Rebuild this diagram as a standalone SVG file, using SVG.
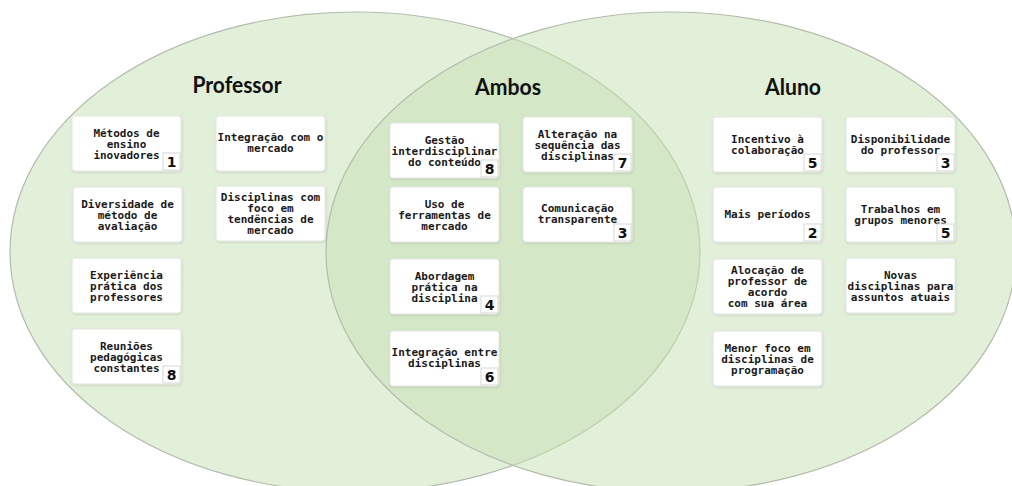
<svg xmlns="http://www.w3.org/2000/svg" width="1012" height="486" viewBox="0 0 1012 486">
<style>
.circle{fill:#c5e0b4;fill-opacity:0.5;stroke:#b4bcae;stroke-width:1.2}
.title{font-family:Lato,"Open Sans",sans-serif;font-weight:700;font-size:22px;fill:#111;text-anchor:middle}
.card{fill:#fff;stroke:#e4e6e2;stroke-width:1}
.t{font-family:"DejaVu Sans Mono","Liberation Mono",monospace;font-weight:700;font-size:11px;fill:#1a1a1a;text-anchor:middle}
.badge{fill:#fff;stroke:#d8d8d8;stroke-width:1}
.n{font-family:"DejaVu Sans","Liberation Sans",sans-serif;font-weight:700;font-size:14px;fill:#111;text-anchor:middle}
</style>
<defs>
<filter id="sh" x="-10%" y="-10%" width="120%" height="130%">
<feDropShadow dx="0.5" dy="1" stdDeviation="0.8" flood-color="#000" flood-opacity="0.12"/>
</filter>
</defs>
<rect width="1012" height="486" fill="#fff"/>
<g id="sets">
<ellipse id="set-professor" class="circle" cx="355" cy="252" rx="345" ry="240"/>
<ellipse id="set-aluno" class="circle" cx="671" cy="252" rx="345" ry="240"/>
</g>
<g id="titles">
<text class="title" x="237" y="93" textLength="89" lengthAdjust="spacingAndGlyphs">Professor</text>
<text class="title" x="508" y="95" textLength="66" lengthAdjust="spacingAndGlyphs">Ambos</text>
<text class="title" x="793" y="95" textLength="56" lengthAdjust="spacingAndGlyphs">Aluno</text>
</g>
<g id="connectors"></g>

<!-- Professor -->
<g id="p1"><rect class="card" filter="url(#sh)" x="72" y="116" width="109" height="55" rx="3"/>
<text class="t" x="126.5" y="136.5">Métodos de</text><text class="t" x="126.5" y="147.5">ensino</text><text class="t" x="126.5" y="158.5">inovadores</text>
<rect class="badge" x="163" y="153" width="17" height="17"/><text class="n" x="171.5" y="167">1</text></g>

<g id="p2"><rect class="card" filter="url(#sh)" x="216" y="116" width="109" height="55" rx="3"/>
<text class="t" x="270.5" y="141">Integração com o</text><text class="t" x="270.5" y="152">mercado</text></g>

<g id="p3"><rect class="card" filter="url(#sh)" x="73" y="187" width="109" height="55" rx="3"/>
<text class="t" x="127.5" y="207.5">Diversidade de</text><text class="t" x="127.5" y="218.5">método de</text><text class="t" x="127.5" y="229.5">avaliação</text></g>

<g id="p4"><rect class="card" filter="url(#sh)" x="216" y="186" width="109" height="55" rx="3"/>
<text class="t" x="270.5" y="201">Disciplinas com</text><text class="t" x="270.5" y="212">foco em</text><text class="t" x="270.5" y="223">tendências de</text><text class="t" x="270.5" y="234">mercado</text></g>

<g id="p5"><rect class="card" filter="url(#sh)" x="72" y="258" width="109" height="55" rx="3"/>
<text class="t" x="126.5" y="278.5">Experiência</text><text class="t" x="126.5" y="289.5">prática dos</text><text class="t" x="126.5" y="300.5">professores</text></g>

<g id="p6"><rect class="card" filter="url(#sh)" x="72" y="329" width="109" height="55" rx="3"/>
<text class="t" x="126.5" y="349.5">Reuniões</text><text class="t" x="126.5" y="360.5">pedagógicas</text><text class="t" x="126.5" y="371.5">constantes</text>
<rect class="badge" x="163" y="366" width="17" height="17"/><text class="n" x="171.5" y="380">8</text></g>

<!-- Ambos -->
<g id="a1"><rect class="card" filter="url(#sh)" x="390" y="123" width="109" height="55" rx="3"/>
<text class="t" x="444.5" y="143.5">Gestão</text><text class="t" x="444.5" y="154.5">interdisciplinar</text><text class="t" x="444.5" y="165.5">do conteúdo</text>
<rect class="badge" x="481" y="160" width="17" height="17"/><text class="n" x="489.5" y="174">8</text></g>

<g id="a2"><rect class="card" filter="url(#sh)" x="523" y="117" width="109" height="55" rx="3"/>
<text class="t" x="577.5" y="137.5">Alteração na</text><text class="t" x="577.5" y="148.5">sequência das</text><text class="t" x="577.5" y="159.5">disciplinas</text>
<rect class="badge" x="614" y="154" width="17" height="17"/><text class="n" x="622.5" y="168">7</text></g>

<g id="a3"><rect class="card" filter="url(#sh)" x="390" y="187" width="109" height="55" rx="3"/>
<text class="t" x="444.5" y="207.5">Uso de</text><text class="t" x="444.5" y="218.5">ferramentas de</text><text class="t" x="444.5" y="229.5">mercado</text></g>

<g id="a4"><rect class="card" filter="url(#sh)" x="523" y="187" width="109" height="55" rx="3"/>
<text class="t" x="577.5" y="212">Comunicação</text><text class="t" x="577.5" y="223">transparente</text>
<rect class="badge" x="614" y="224" width="17" height="17"/><text class="n" x="622.5" y="238">3</text></g>

<g id="a5"><rect class="card" filter="url(#sh)" x="390" y="259" width="109" height="55" rx="3"/>
<text class="t" x="444.5" y="279.5">Abordagem</text><text class="t" x="444.5" y="290.5">prática na</text><text class="t" x="444.5" y="301.5">disciplina</text>
<rect class="badge" x="481" y="296" width="17" height="17"/><text class="n" x="489.5" y="310">4</text></g>

<g id="a6"><rect class="card" filter="url(#sh)" x="390" y="331" width="109" height="55" rx="3"/>
<text class="t" x="444.5" y="356">Integração entre</text><text class="t" x="444.5" y="367">disciplinas</text>
<rect class="badge" x="481" y="368" width="17" height="17"/><text class="n" x="489.5" y="382">6</text></g>

<!-- Aluno -->
<g id="r1"><rect class="card" filter="url(#sh)" x="713" y="117" width="109" height="55" rx="3"/>
<text class="t" x="767.5" y="143">Incentivo à</text><text class="t" x="767.5" y="154">colaboração</text>
<rect class="badge" x="804" y="154" width="17" height="17"/><text class="n" x="812.5" y="168">5</text></g>

<g id="r2"><rect class="card" filter="url(#sh)" x="846" y="117" width="109" height="55" rx="3"/>
<text class="t" x="900.5" y="143">Disponibilidade</text><text class="t" x="900.5" y="154">do professor</text>
<rect class="badge" x="937" y="154" width="17" height="17"/><text class="n" x="945.5" y="168">3</text></g>

<g id="r3"><rect class="card" filter="url(#sh)" x="713" y="187" width="109" height="55" rx="3"/>
<text class="t" x="767.5" y="218">Mais períodos</text>
<rect class="badge" x="804" y="224" width="17" height="17"/><text class="n" x="812.5" y="238">2</text></g>

<g id="r4"><rect class="card" filter="url(#sh)" x="846" y="187" width="109" height="55" rx="3"/>
<text class="t" x="900.5" y="213">Trabalhos em</text><text class="t" x="900.5" y="224">grupos menores</text>
<rect class="badge" x="937" y="224" width="17" height="17"/><text class="n" x="945.5" y="238">5</text></g>

<g id="r5"><rect class="card" filter="url(#sh)" x="713" y="259" width="109" height="55" rx="3"/>
<text class="t" x="767.5" y="274">Alocação de</text><text class="t" x="767.5" y="285">professor de</text><text class="t" x="767.5" y="296">acordo</text><text class="t" x="767.5" y="307">com sua área</text></g>

<g id="r6"><rect class="card" filter="url(#sh)" x="846" y="258" width="109" height="55" rx="3"/>
<text class="t" x="900.5" y="278.5">Novas</text><text class="t" x="900.5" y="289.5">disciplinas para</text><text class="t" x="900.5" y="300.5">assuntos atuais</text></g>

<g id="r7"><rect class="card" filter="url(#sh)" x="713" y="331" width="109" height="55" rx="3"/>
<text class="t" x="767.5" y="351.5">Menor foco em</text><text class="t" x="767.5" y="362.5">disciplinas de</text><text class="t" x="767.5" y="373.5">programação</text></g>
</svg>
